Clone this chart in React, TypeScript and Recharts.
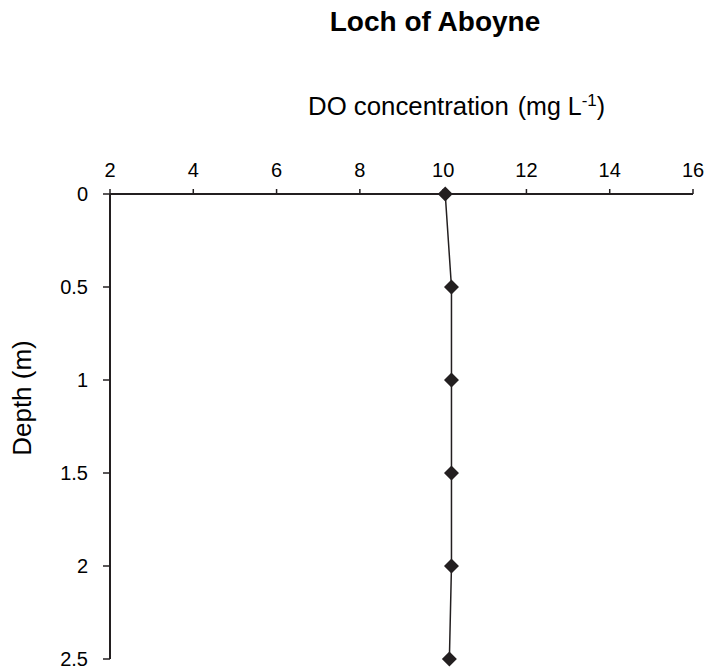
import { ScatterChart, Scatter, XAxis, YAxis } from 'recharts';

// dissolved oxygen profile, one reading per half metre
const depths = [0, 0.5, 1, 1.5, 2, 2.5];
const doValues = [10.05, 10.2, 10.2, 10.2, 10.2, 10.15];
const xTicks = [2, 4, 6, 8, 10, 12, 14, 16];
const yTicks = [0, 0.5, 1, 1.5, 2, 2.5];

const profile = depths.map((depth, i) => ({ depth, conc: doValues[i] }));

const FONT = '"Liberation Sans", Arial, sans-serif';
const INK = '#231f20';

function Diamond(props: any) {
  const { cx, cy } = props;
  const r = 7.5;
  return (
    <polygon
      points={`${cx},${cy - r} ${cx + r},${cy} ${cx},${cy + r} ${cx - r},${cy}`}
      fill={INK}
    />
  );
}

export default function App() {
  return (
    <div
      style={{
        position: 'relative',
        width: 707,
        height: 671,
        fontFamily: FONT,
        color: '#000',
      }}
    >
      <style>{'body { margin: 0; }'}</style>
      <div
        style={{
          position: 'absolute',
          left: 0,
          width: 870,
          top: 6,
          textAlign: 'center',
          fontWeight: 'bold',
          fontSize: 28,
          lineHeight: '32px',
        }}
      >
        Loch of Aboyne
      </div>
      <div
        style={{
          position: 'absolute',
          left: 308,
          top: 94,
          fontSize: 25.8,
          lineHeight: 1,
          whiteSpace: 'nowrap',
        }}
      >
        DO concentration
        <span style={{ marginLeft: 9, fontSize: 25 }}>
          (mg L<sup style={{ fontSize: 17, lineHeight: 0 }}>-1</sup>)
        </span>
      </div>
      <div
        style={{
          position: 'absolute',
          left: 21.6 - 80,
          top: 398 - 13,
          width: 160,
          height: 26,
          textAlign: 'center',
          fontSize: 26,
          lineHeight: 1,
          transform: 'rotate(-90deg)',
          whiteSpace: 'nowrap',
        }}
      >
        Depth (m)
      </div>
      <ScatterChart
        width={707}
        height={671}
        margin={{ top: 144, right: 14, bottom: 12, left: 0 }}
      >
        <XAxis
          type="number"
          dataKey="conc"
          orientation="top"
          domain={[2, 16]}
          ticks={xTicks}
          height={50}
          tickSize={5}
          tickMargin={12}
          axisLine={{ stroke: INK, strokeWidth: 2 }}
          tickLine={{ stroke: INK, strokeWidth: 1.5 }}
          tick={{ fill: '#000', fontSize: 20, fontFamily: FONT }}
        />
        <YAxis
          type="number"
          dataKey="depth"
          reversed
          domain={[0, 2.5]}
          ticks={yTicks}
          width={110}
          tickSize={7}
          tickMargin={15}
          axisLine={{ stroke: INK, strokeWidth: 2 }}
          tickLine={{ stroke: INK, strokeWidth: 1.5 }}
          tick={{ fill: '#000', fontSize: 20, fontFamily: FONT }}
        />
        <Scatter
          data={profile}
          line={{ stroke: INK, strokeWidth: 1.5 }}
          lineType="joint"
          shape={<Diamond />}
          isAnimationActive={false}
        />
      </ScatterChart>
    </div>
  );
}
